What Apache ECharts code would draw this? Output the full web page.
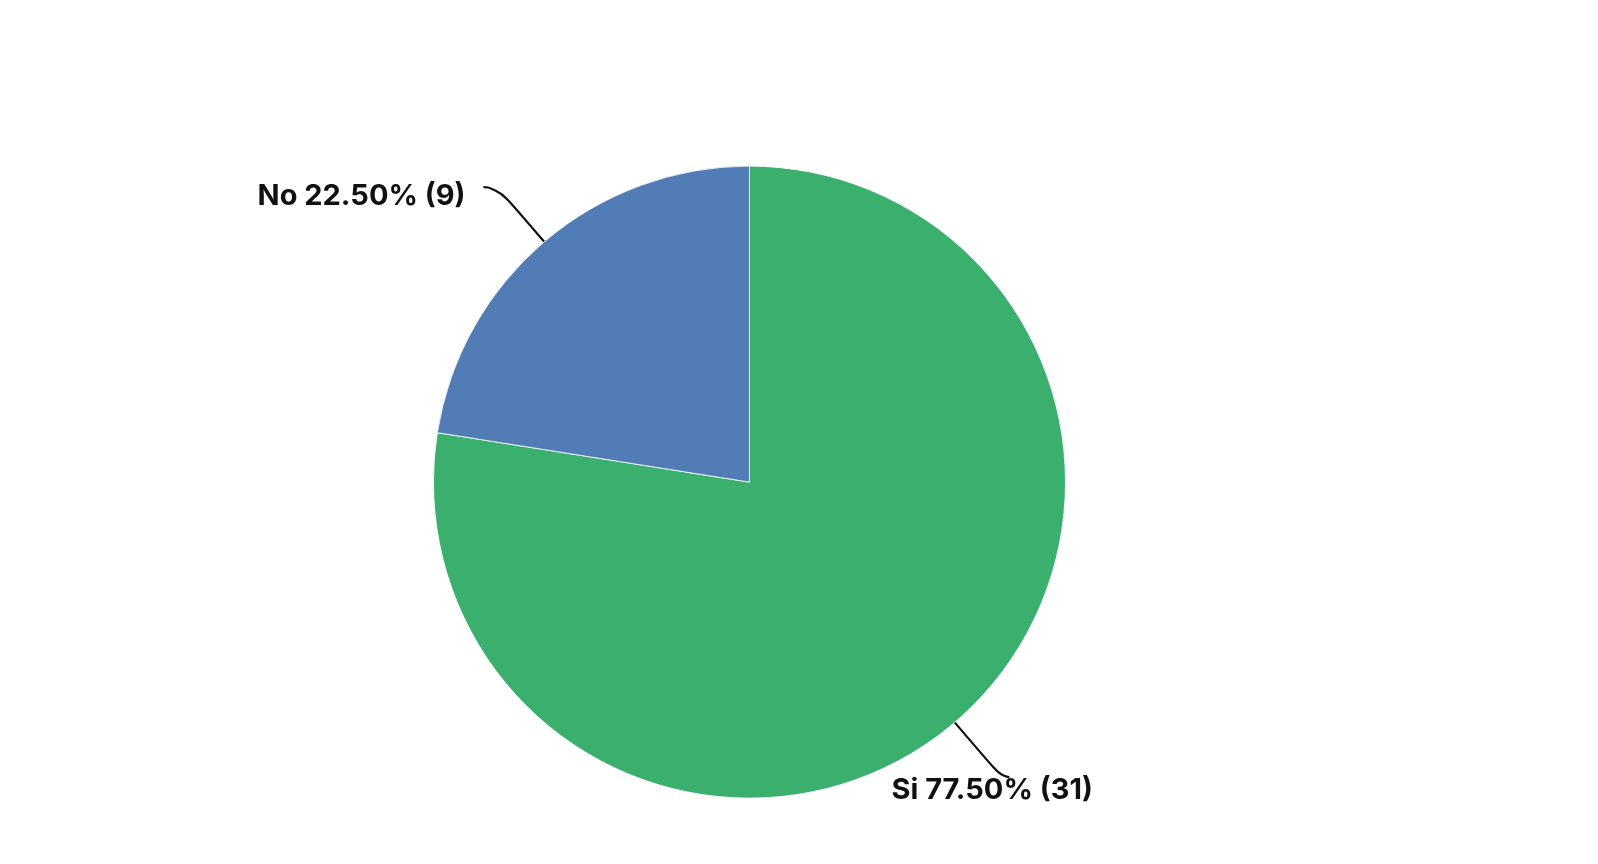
<!DOCTYPE html>
<html>
<head>
<meta charset="utf-8">
<script src="https://cdn.jsdelivr.net/npm/echarts@6/dist/echarts.min.js"></script>
<style>
html,body{margin:0;padding:0;background:#fff;}
#chart{width:1598px;height:864px;}
</style>
</head>
<body>
<div id="chart"></div>
<script>
const categories = ['Si', 'No'];
const counts = [31, 9];
const colors = ['#3BAF6D', '#527CB5'];

const total = counts.reduce((a, b) => a + b, 0);
const lineLen2 = [8, 14];
const chart = echarts.init(document.getElementById('chart'), null, {renderer: 'canvas'});
chart.setOption({
  backgroundColor: '#ffffff',
  animation: false,
  series: [{
    type: 'pie',
    center: ['46.9%', '55.8%'],
    radius: 316,
    startAngle: 90,
    clockwise: true,
    data: categories.map((c, i) => ({
      name: c, value: counts[i],
      itemStyle: {color: colors[i]},
      labelLine: {length2: lineLen2[i]}
    })),
    itemStyle: {borderColor: '#ffffff', borderWidth: 0.8},
    label: {
      show: true,
      position: 'outside',
      formatter: p => p.name + ' ' + (p.value / total * 100).toFixed(2) + '% (' + p.value + ')',
      fontFamily: 'Inter',
      fontWeight: 'bold',
      fontSize: 29,
      color: '#111111',
      distanceToLabelLine: 0
    },
    labelLine: {
      show: true,
      length: 72,
      length2: 14,
      smooth: 0.7,
      lineStyle: {color: '#111111', width: 2.2}
    },
    labelLayout: function (p) {
      const pts = p.labelLinePoints;
      if (!pts) return {};
      const end = pts[pts.length - 1];
      if (p.dataIndex === 0) {
        return {x: end[0] - 118, y: end[1] + 13, labelLinePoints: pts};
      }
      return {x: end[0] - 18, y: end[1] + 9, labelLinePoints: pts};
    }
  }]
});
</script>
</body>
</html>
